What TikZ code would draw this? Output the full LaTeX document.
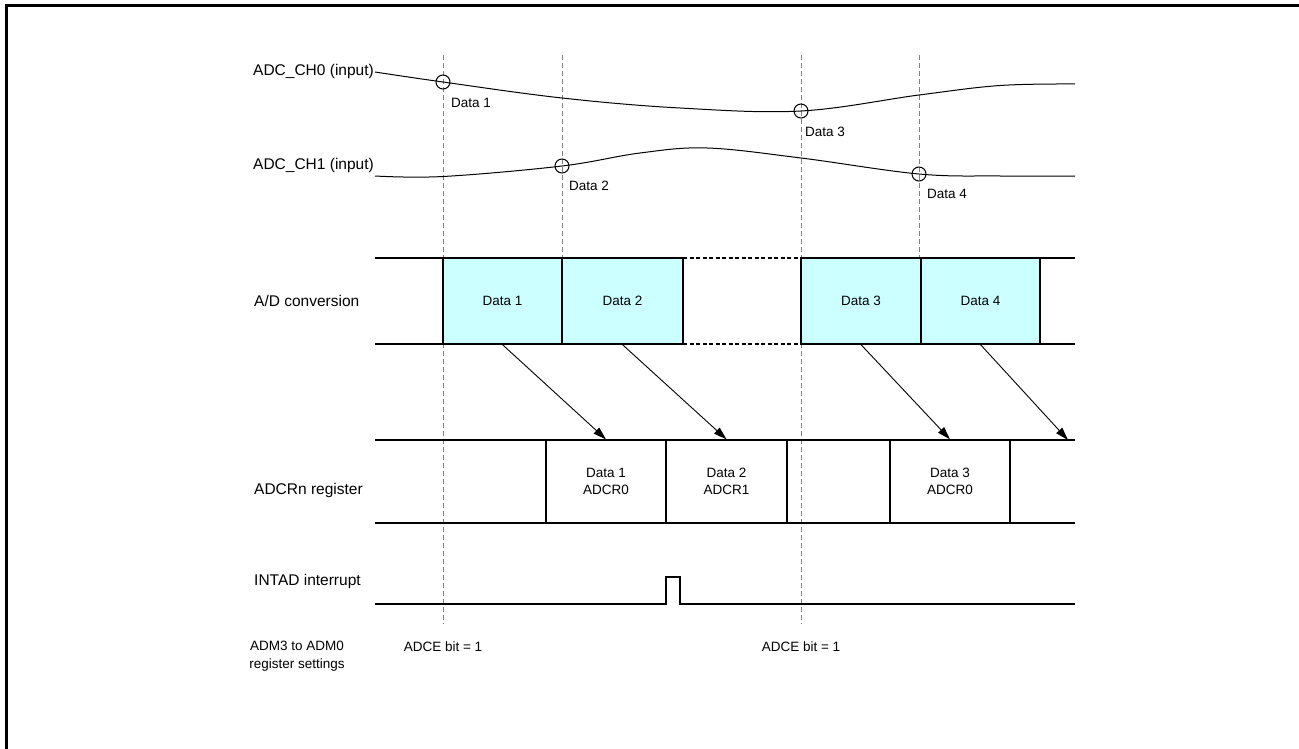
\documentclass[tikz,border=0pt]{standalone}
\usepackage{fontspec}
\setmainfont{Liberation Sans}
\usetikzlibrary{arrows.meta}
\definecolor{cyanfill}{HTML}{CCFFFF}
\definecolor{guide}{HTML}{808080}
\begin{document}
\begin{tikzpicture}[x=1pt,y=-1pt,
  sig/.style={line width=1.3pt},
  guideline/.style={draw=guide, line width=0.9pt, dash pattern=on 5pt off 3pt},
  gapline/.style={line width=1.3pt, dash pattern=on 4pt off 2.5pt},
  convbox/.style={draw, line width=1.3pt, fill=cyanfill, minimum height=86pt, inner sep=0pt, font=\fontsize{13.5}{16}\selectfont},
  regbox/.style={draw, line width=1.3pt, minimum height=83pt, inner sep=0pt, align=center, font=\fontsize{13.5}{17}\selectfont},
  sample/.style={circle, draw, line width=1pt, minimum size=14pt, inner sep=0pt},
  smalllabel/.style={font=\fontsize{13.5}{16}\selectfont, inner sep=0pt},
  rowlabel/.style={font=\fontsize{15.5}{18}\selectfont, inner sep=0pt},
  xfer/.style={line width=0.9pt, -{Triangle[length=13pt,width=8pt]}}
]
\useasboundingbox (0,0) rectangle (1299,749);
% frame
\draw[line width=3pt] (6,749) -- (6,6) -- (1299,6);

% guide lines
\coordinate (g1t) at (443,55);  \coordinate (g1b) at (443,624);
\coordinate (g2t) at (562,55);  \coordinate (g2b) at (562,258);
\coordinate (g3t) at (801,55);  \coordinate (g3b) at (801,624);
\coordinate (g4t) at (919,55);  \coordinate (g4b) at (919,258);
\draw[guideline] (g1t) -- (g1b);
\draw[guideline] (g2t) -- (g2b);
\draw[guideline] (g3t) -- (g3b);
\draw[guideline] (g4t) -- (g4b);

% row labels
\node[rowlabel, anchor=east] (lch0) at (374,71) {ADC\_CH0 (input)};
\node[rowlabel, anchor=east] (lch1) at (374,165) {ADC\_CH1 (input)};
\node[rowlabel, anchor=west] (lconv) at (254,301) {A/D conversion};
\node[rowlabel, anchor=west] (lreg) at (254,490) {ADCRn register};
\node[rowlabel, anchor=west] (lint) at (254,581) {INTAD interrupt};
\node[font=\fontsize{13.5}{17.5}\selectfont, align=center, inner sep=0pt] (ladm) at (297,656) {ADM3 to ADM0\\register settings};

% analog waveforms
\draw[line width=1pt] plot[smooth, tension=0.6] coordinates {(375,72) (443,82) (562,98) (680,108) (801,111) (919,95) (1000,85.5) (1075,84)};
\draw[line width=1pt] plot[smooth, tension=0.6] coordinates {(375,176) (443,176.5) (562,166) (640,153) (707,148) (801,158) (919,174) (1000,176) (1075,176)};

\node[sample] (s1) at (443,82) {};
\node[sample] (s2) at (562,166) {};
\node[sample] (s3) at (801,111) {};
\node[sample] (s4) at (919,174) {};
\node[smalllabel, anchor=west] (d1) at (451,103) {Data 1};
\node[smalllabel, anchor=west] (d2) at (569,186) {Data 2};
\node[smalllabel, anchor=west] (d3) at (805,132) {Data 3};
\node[smalllabel, anchor=west] (d4) at (927,194) {Data 4};

% A/D conversion row
\coordinate (ct0) at (375,258); \coordinate (cb0) at (375,344);
\coordinate (ct1) at (683,258); \coordinate (cb1) at (683,344);
\coordinate (ct2) at (801,258); \coordinate (cb2) at (801,344);
\coordinate (ct3) at (1075,258); \coordinate (cb3) at (1075,344);
\draw[sig] (ct0) -- (ct1);
\draw[sig] (cb0) -- (cb1);
\draw[gapline] (ct1) -- (ct2);
\draw[gapline] (cb1) -- (cb2);
\draw[sig] (ct2) -- (ct3);
\draw[sig] (cb2) -- (cb3);
\node[convbox, minimum width=119pt] (c1) at (502.5,301) {Data 1};
\node[convbox, minimum width=121pt] (c2) at (622.5,301) {Data 2};
\node[convbox, minimum width=120pt] (c3) at (861,301) {Data 3};
\node[convbox, minimum width=119pt] (c4) at (980.5,301) {Data 4};

% ADCRn register row
\coordinate (rt0) at (375,440); \coordinate (rt1) at (1075,440);
\coordinate (rb0) at (375,523); \coordinate (rb1) at (1075,523);
\draw[sig] (rt0) -- (rt1);
\draw[sig] (rb0) -- (rb1);
\node[regbox, minimum width=120pt] (r1) at (606,481.5) {Data 1\\ADCR0};
\node[regbox, minimum width=121pt] (r2) at (726.5,481.5) {Data 2\\ADCR1};
\node[regbox, minimum width=120pt] (r3) at (950,481.5) {Data 3\\ADCR0};
\coordinate (r4) at (1068,440);

% transfers
\draw[xfer] (c1.south) -- (r1.north);
\draw[xfer] (c2.south) -- (r2.north);
\draw[xfer] (c3.south) -- (r3.north);
\draw[xfer] (c4.south) -- (r4);

% interrupt
\coordinate (i0) at (375,604);
\coordinate (i1) at (666,604);
\coordinate (i2) at (666,577);
\coordinate (i3) at (680,577);
\coordinate (i4) at (680,604);
\coordinate (i5) at (1075,604);
\draw[sig] (i0) -- (i1) -- (i2) -- (i3) -- (i4) -- (i5);

% settings
\node[smalllabel] (e1) at (443,647) {ADCE bit = 1};
\node[smalllabel] (e2) at (801,647) {ADCE bit = 1};
\end{tikzpicture}
\end{document}
